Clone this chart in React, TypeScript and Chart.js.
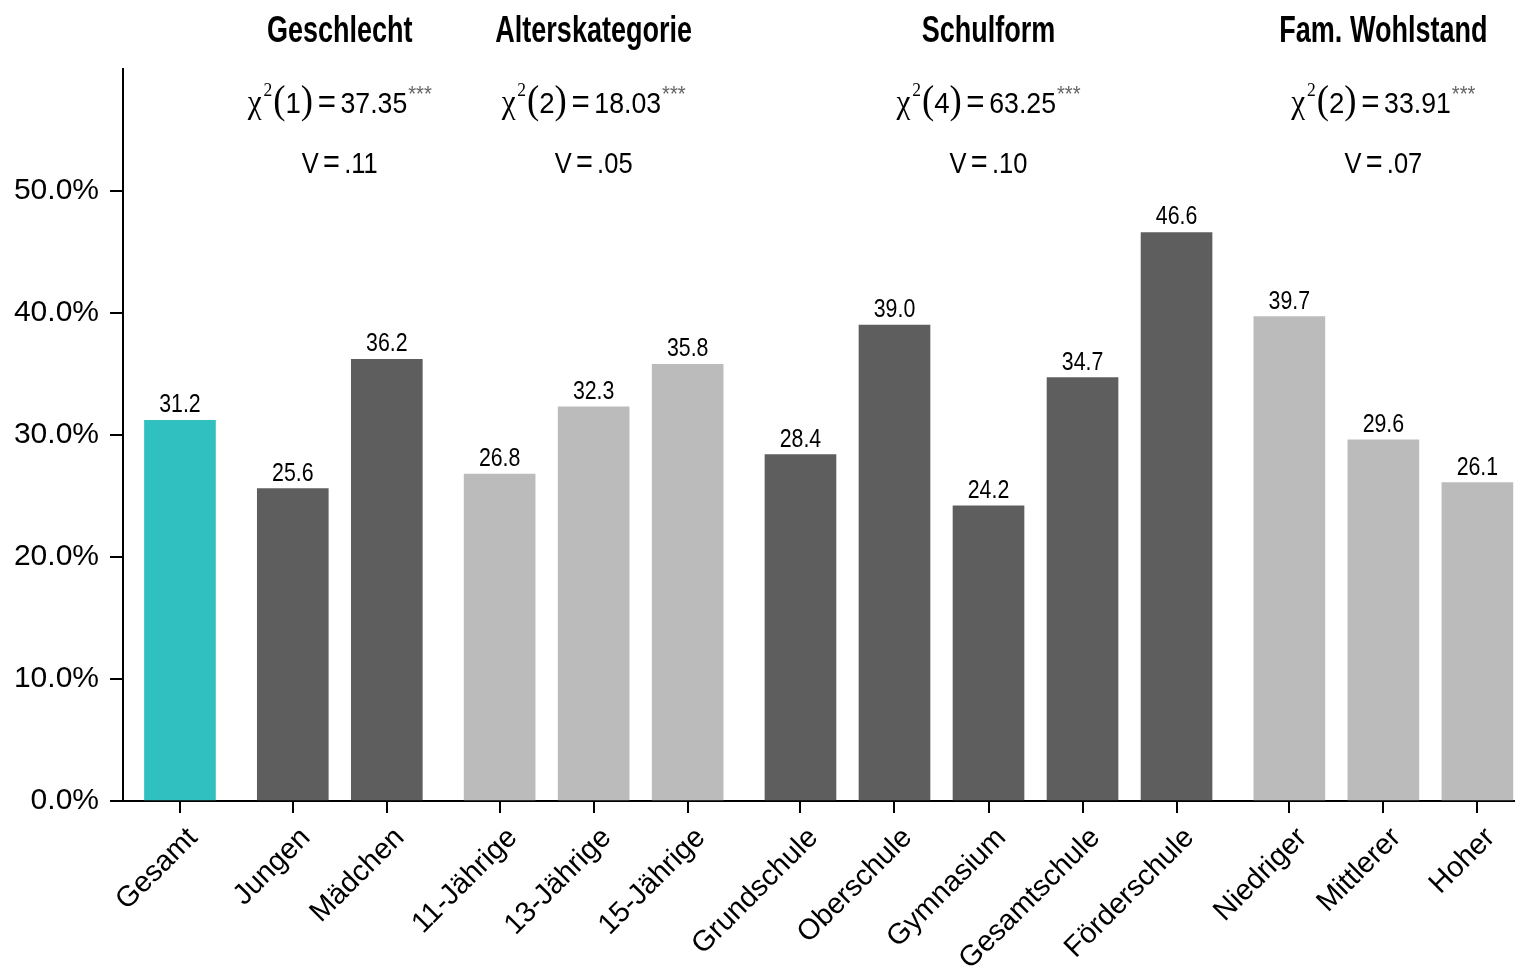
import React, { useEffect, useRef } from "react";
import { Chart, registerables } from "chart.js";

Chart.register(...registerables);

// Categories and their shares (%)
const categories = [
  "Gesamt",
  "Jungen",
  "Mädchen",
  "11-Jährige",
  "13-Jährige",
  "15-Jährige",
  "Grundschule",
  "Oberschule",
  "Gymnasium",
  "Gesamtschule",
  "Förderschule",
  "Niedriger",
  "Mittlerer",
  "Hoher",
];
const shares = [31.2, 25.6, 36.2, 26.8, 32.3, 35.8, 28.4, 39.0, 24.2, 34.7, 46.6, 39.7, 29.6, 26.1];

// Group membership of each category (0 = total)
const groupOfCategory = [0, 1, 1, 2, 2, 2, 3, 3, 3, 3, 3, 4, 4, 4];

// Group headers and test statistics (groups 1..4)
const groupTitles = ["Geschlecht", "Alterskategorie", "Schulform", "Fam. Wohlstand"];
const chiDf = ["1", "2", "4", "2"];
const chiValues = ["37.35", "18.03", "63.25", "33.91"];
const significance = ["***", "***", "***", "***"];
const cramerV = [".11", ".05", ".10", ".07"];

// Y axis
const yTickValues = [0, 10, 20, 30, 40, 50];
const yMax = 60;

// Colours per group
const groupColors = ["#31c0c0", "#5e5e5e", "#bbbbbb", "#5e5e5e", "#bbbbbb"];

const GROUP_GAP = 0.2;
const xPositions = categories.map((_, i) => i + GROUP_GAP * groupOfCategory[i]);

const SANS = '"Liberation Sans", Arial, sans-serif';
const SERIF = '"Liberation Serif", "DejaVu Serif", serif';

type Run = { text: string; font: string; dy?: number; gap?: number; color?: string };

// Draws a row of differently styled text pieces centred on cx, squeezed horizontally by sx
function drawRuns(
  ctx: CanvasRenderingContext2D,
  runs: Run[],
  cx: number,
  baseY: number,
  sx: number
) {
  const widths = runs.map((r) => {
    ctx.font = r.font;
    return ctx.measureText(r.text).width;
  });
  const total = widths.reduce((a, w, i) => a + w + (runs[i].gap || 0), 0);
  ctx.save();
  ctx.translate(cx, baseY);
  ctx.scale(sx, 1);
  let x = -total / 2;
  ctx.textAlign = "left";
  ctx.textBaseline = "alphabetic";
  runs.forEach((r, i) => {
    ctx.font = r.font;
    ctx.fillStyle = r.color || "#000";
    ctx.fillText(r.text, x, r.dy || 0);
    x += widths[i] + (r.gap || 0);
  });
  ctx.restore();
}

const annotationPlugin = {
  id: "groupAnnotations",
  afterDatasetsDraw(chart: any) {
    const ctx: CanvasRenderingContext2D = chart.ctx;
    const meta = chart.getDatasetMeta(0);
    const xScale = chart.scales.x;
    ctx.save();

    // value labels above the bars
    meta.data.forEach((bar: any, i: number) => {
      drawRuns(ctx, [{ text: shares[i].toFixed(1), font: `26px ${SANS}` }], bar.x, bar.y - 8, 0.82);
    });

    // group headers with chi-square test and Cramér's V
    groupTitles.forEach((title, g) => {
      const members = xPositions.filter((_, i) => groupOfCategory[i] === g + 1);
      const centre = members.reduce((a, v) => a + v, 0) / members.length;
      const cx = xScale.getPixelForValue(centre);

      drawRuns(ctx, [{ text: title, font: `bold 37px ${SANS}` }], cx, 42, 0.73);

      drawRuns(
        ctx,
        [
          { text: "χ", font: `34px ${SERIF}`, gap: 2 },
          { text: "2", font: `19px ${SERIF}`, dy: -17, gap: 1 },
          { text: "(", font: `40px ${SERIF}` },
          { text: chiDf[g], font: `30px ${SANS}` },
          { text: ")", font: `40px ${SERIF}`, gap: 5 },
          { text: "=", font: `34px ${SANS}`, gap: 5 },
          { text: chiValues[g], font: `29px ${SANS}`, gap: 1 },
          { text: significance[g], font: `22px ${SANS}`, dy: -12, color: "#666" },
        ],
        cx,
        113,
        0.92
      );

      drawRuns(
        ctx,
        [
          { text: "V", font: `30px ${SANS}`, gap: 5 },
          { text: "=", font: `34px ${SANS}`, gap: 5 },
          { text: cramerV[g], font: `30px ${SANS}` },
        ],
        cx,
        173,
        0.85
      );
    });

    ctx.restore();
  },
};

export default function App() {
  const canvasRef = useRef<HTMLCanvasElement | null>(null);

  useEffect(() => {
    if (!canvasRef.current) return;
    const chart = new Chart(canvasRef.current, {
      type: "bar",
      data: {
        datasets: [
          {
            data: shares.map((v, i) => ({ x: xPositions[i], y: v })) as any,
            backgroundColor: categories.map((_, i) => groupColors[groupOfCategory[i]]),
            borderWidth: 0,
            barThickness: 71,
          },
        ],
      },
      options: {
        animation: false,
        responsive: true,
        maintainAspectRatio: false,
        layout: { padding: { top: 69, left: 0, right: 0, bottom: 0 } },
        plugins: {
          legend: { display: false },
          tooltip: { enabled: false },
        },
        scales: {
          x: {
            type: "linear",
            offset: false,
            min: -0.606,
            max: 14.2,
            afterBuildTicks: (scale: any) => {
              scale.ticks = xPositions.map((v) => ({ value: v }));
            },
            afterFit: (scale: any) => {
              scale.height = 167;
              scale.paddingLeft = 0;
              scale.paddingRight = 0;
            },
            ticks: {
              autoSkip: false,
              minRotation: 45,
              maxRotation: 45,
              padding: 8,
              labelOffset: 13,
              color: "#000",
              font: { family: SANS, size: 29 },
              callback: (_v: any, index: number) => categories[index],
            },
            grid: {
              offset: false,
              drawOnChartArea: false,
              drawTicks: true,
              tickLength: 12,
              color: "#000",
              tickColor: "#000",
              lineWidth: 2,
              tickWidth: 2,
            },
            border: { display: true, color: "#000", width: 2 },
          },
          y: {
            min: 0,
            max: yMax,
            afterBuildTicks: (scale: any) => {
              scale.ticks = yTickValues.map((v) => ({ value: v }));
            },
            afterFit: (scale: any) => {
              scale.width = 123;
              scale.paddingTop = 0;
              scale.paddingBottom = 0;
            },
            ticks: {
              padding: 11,
              color: "#000",
              font: { family: SANS, size: 30 },
              callback: (v: any) => Number(v).toFixed(1) + "%",
            },
            grid: {
              drawOnChartArea: false,
              drawTicks: true,
              tickLength: 13,
              color: "#000",
              tickColor: "#000",
              lineWidth: 2,
              tickWidth: 2,
            },
            border: { display: true, color: "#000", width: 2 },
          },
        },
      },
      plugins: [annotationPlugin],
    });
    return () => chart.destroy();
  }, []);

  return (
    <div
      style={{
        position: "fixed",
        left: 0,
        top: 0,
        width: "1515px",
        height: "968px",
        background: "#fff",
      }}
    >
      <canvas ref={canvasRef} />
    </div>
  );
}
